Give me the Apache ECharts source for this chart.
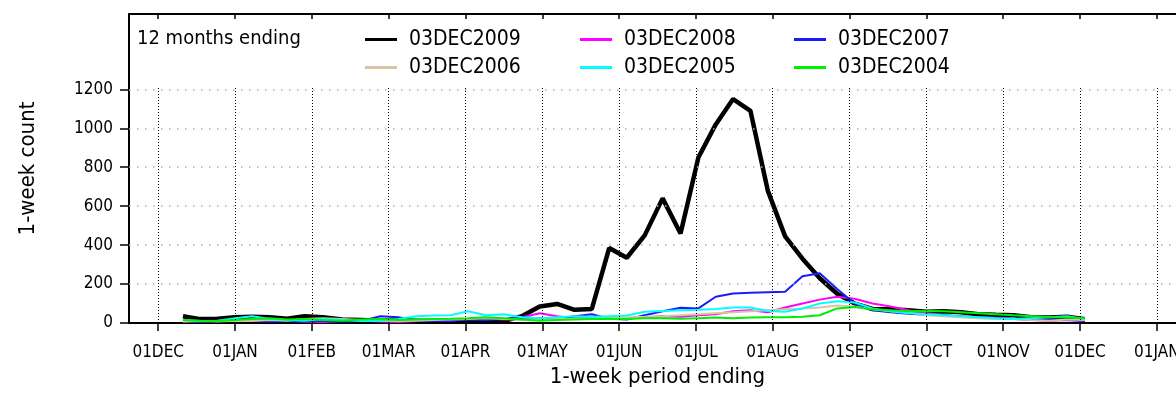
<!DOCTYPE html>
<html>
<head>
<meta charset="utf-8">
<script src="https://cdn.jsdelivr.net/npm/echarts@6/dist/echarts.min.js"></script>
<style>
  html, body { margin: 0; padding: 0; background: #ffffff; }
  #chart { width: 1176px; height: 410px; }
</style>
</head>
<body>
<div id="chart"></div>
<script>
const FONT = '"Liberation Sans Narrow", "DejaVu Sans Condensed", "Liberation Sans", sans-serif';

// Month tick labels along the x axis; tick i sits at month index i (0 = 01DEC)
const monthLabels = ['01DEC', '01JAN', '01FEB', '01MAR', '01APR', '01MAY', '01JUN',
                     '01JUL', '01AUG', '01SEP', '01OCT', '01NOV', '01DEC', '01JAN'];
const monthTicks = monthLabels.map((_, i) => i);
const countTicks = [0, 200, 400, 600, 800, 1000, 1200];

// Weekly periods: 52 weeks, first week ending 11 DEC, last ending 03 DEC
const firstWeekEnding = '2008-12-11';
const weekCount = 52;

const seriesNames = ['03DEC2009', '03DEC2008', '03DEC2007', '03DEC2006', '03DEC2005', '03DEC2004'];
const seriesColors = ['#000000', '#ff00ff', '#1a1aff', '#d9c3a0', '#00ffff', '#00ee00'];

// 1-week counts, one value per weekly period
const y2009 = [35, 20, 22, 30, 32, 30, 22, 35, 30, 18, 15, 12, 14, 12, 10, 10, 12, 8, 10, 35,
               85, 98, 68, 72, 385, 335, 450, 640, 460, 850, 1020, 1150, 1090, 680, 445, 330,
               230, 150, 100, 72, 70, 65, 58, 60, 55, 45, 42, 40, 30, 28, 32, 20];
const y2008 = [8, 10, 12, 10, 12, 15, 10, 8, 5, 10, 12, 8, 5, 10, 15, 12, 20, 25, 18, 30,
               50, 35, 25, 28, 30, 22, 30, 35, 32, 40, 45, 60, 65, 55, 80, 100,
               120, 135, 125, 100, 85, 65, 50, 40, 32, 28, 25, 20, 15, 12, 15, 10];
const y2007 = [10, 8, 10, 12, 10, 8, 10, 12, 10, 8, 10, 35, 30, 12, 10, 12, 18, 15, 20, 28,
               25, 20, 35, 45, 22, 18, 40, 60, 78, 75, 135, 152, 155, 158, 160, 240,
               255, 175, 100, 65, 55, 48, 42, 40, 35, 30, 28, 22, 20, 18, 15, 12];
const y2006 = [8, 10, 8, 12, 10, 15, 12, 20, 25, 20, 15, 12, 10, 12, 15, 18, 20, 25, 20, 15,
               18, 20, 22, 25, 28, 30, 32, 35, 40, 45, 50, 55, 60, 65, 70, 75,
               80, 90, 85, 70, 60, 55, 40, 35, 30, 25, 20, 22, 15, 12, 18, 15];
const y2005 = [15, 10, 12, 25, 35, 20, 15, 12, 20, 15, 10, 12, 20, 35, 38, 40, 60, 40, 45, 30,
               25, 30, 35, 32, 35, 38, 58, 62, 65, 68, 72, 80, 80, 62, 58, 75,
               100, 112, 105, 75, 60, 50, 45, 40, 35, 30, 25, 20, 25, 30, 35, 20];
const y2004 = [15, 12, 10, 15, 20, 25, 18, 20, 15, 12, 18, 20, 15, 18, 20, 22, 25, 30, 25, 18,
               12, 15, 18, 20, 22, 20, 25, 25, 22, 25, 28, 25, 28, 30, 30, 32,
               40, 75, 82, 70, 65, 60, 62, 60, 55, 50, 45, 40, 35, 30, 28, 25];

const seriesValues = [y2009, y2008, y2007, y2006, y2005, y2004];

// Position of a date on the month axis: month index plus fraction of the month
function monthPosition(d) {
  const y = d.getUTCFullYear(), m = d.getUTCMonth();
  const index = (y - 2008) * 12 + m - 11;
  const daysInMonth = new Date(Date.UTC(y, m + 1, 0)).getUTCDate();
  return index + (d.getUTCDate() - 1) / daysInMonth;
}

const weekX = [];
{
  const start = new Date(firstWeekEnding + 'T00:00:00Z');
  for (let i = 0; i < weekCount; i++) {
    weekX.push(monthPosition(new Date(start.getTime() + i * 7 * 86400000)));
  }
}

const textBase = { color: '#000', fontFamily: FONT };

// Dotted guides: black verticals at each month, grey horizontals at each count tick
const verticalGuides = monthTicks.map(m => [
  { coord: [m, 0], lineStyle: { color: '#000', width: 1, type: [1, 2] } },
  { coord: [m, 1210] }
]);
const horizontalGuides = countTicks.filter(v => v > 0).map(v => ({
  yAxis: v, lineStyle: { color: '#b0b0b0', width: 1.5, type: [1.5, 6.5] }
}));

const dataSeries = seriesNames.map((name, k) => ({
  name: name,
  type: 'line',
  xAxisIndex: 0,
  yAxisIndex: 0,
  data: weekX.map((x, i) => [x, seriesValues[k][i]]),
  showSymbol: false,
  symbol: 'none',
  z: k === 0 ? 3 : 4,
  lineStyle: { color: seriesColors[k], width: k === 0 ? 4.5 : 2 },
  itemStyle: { color: seriesColors[k] }
}));

const legendLayout = [
  { left: 365, top: 29 }, { left: 580, top: 29 }, { left: 794, top: 29 },
  { left: 365, top: 57 }, { left: 580, top: 57 }, { left: 794, top: 57 }
];
// Legend order: row 1 = 2009, 2008, 2007; row 2 = 2006, 2005, 2004
const legends = seriesNames.map((name, k) => ({
  data: [name],
  left: legendLayout[k].left,
  top: legendLayout[k].top,
  padding: 0,
  icon: 'rect',
  itemWidth: 32,
  itemHeight: 3,
  selectedMode: false,
  textStyle: Object.assign({ fontSize: 21, padding: [0, 0, 0, 7] }, textBase)
}));

const chart = echarts.init(document.getElementById('chart'), null, { renderer: 'canvas' });
chart.setOption({
  animation: false,
  backgroundColor: '#ffffff',
  title: {
    text: '12 months ending',
    left: 137,
    top: 29,
    padding: 0,
    textStyle: Object.assign({ fontSize: 20, fontWeight: 'normal' }, textBase)
  },
  legend: legends,
  grid: {
    left: 129, top: 14, width: 1057, bottom: 87,
    outerBoundsMode: 'none', containLabel: false
  },
  xAxis: [
    {
      type: 'value', min: -0.38, max: 13.38, position: 'bottom',
      axisLine: { show: true, onZero: false, lineStyle: { color: '#000', width: 2 } },
      axisTick: { show: true, customValues: monthTicks, length: 8, lineStyle: { color: '#000', width: 1.5 } },
      axisLabel: {
        show: true, customValues: monthTicks, margin: 21, fontSize: 17,
        color: '#000', fontFamily: FONT,
        formatter: v => monthLabels[Math.round(v)]
      },
      splitLine: { show: false },
      name: '1-week period ending',
      nameLocation: 'middle',
      nameGap: 38,
      nameTextStyle: Object.assign({ fontSize: 22 }, textBase)
    },
    {
      type: 'value', min: -0.38, max: 13.38, position: 'top',
      axisLine: { show: true, onZero: false, lineStyle: { color: '#000', width: 2 } },
      axisTick: { show: true, inside: true, customValues: monthTicks, length: 5, lineStyle: { color: '#000', width: 1.5 } },
      axisLabel: { show: false },
      splitLine: { show: false }
    }
  ],
  yAxis: {
    type: 'value', min: 0, max: 1587,
    axisLine: { show: true, onZero: false, lineStyle: { color: '#000', width: 2 } },
    axisTick: { show: true, customValues: countTicks, length: 9, lineStyle: { color: '#000', width: 1.5 } },
    axisLabel: {
      show: true, customValues: countTicks, margin: 16, fontSize: 17,
      color: '#000', fontFamily: FONT, formatter: v => String(v)
    },
    splitLine: { show: false },
    name: '1-week count',
    nameLocation: 'middle',
    nameGap: 90,
    nameRotate: 90,
    nameTextStyle: Object.assign({ fontSize: 22 }, textBase)
  },
  series: [
    {
      name: 'guides',
      type: 'line',
      data: [],
      z: 1,
      silent: true,
      markLine: {
        silent: true,
        symbol: ['none', 'none'],
        label: { show: false },
        emphasis: { disabled: true },
        data: verticalGuides.concat(horizontalGuides)
      }
    }
  ].concat(dataSeries)
});
</script>
</body>
</html>
